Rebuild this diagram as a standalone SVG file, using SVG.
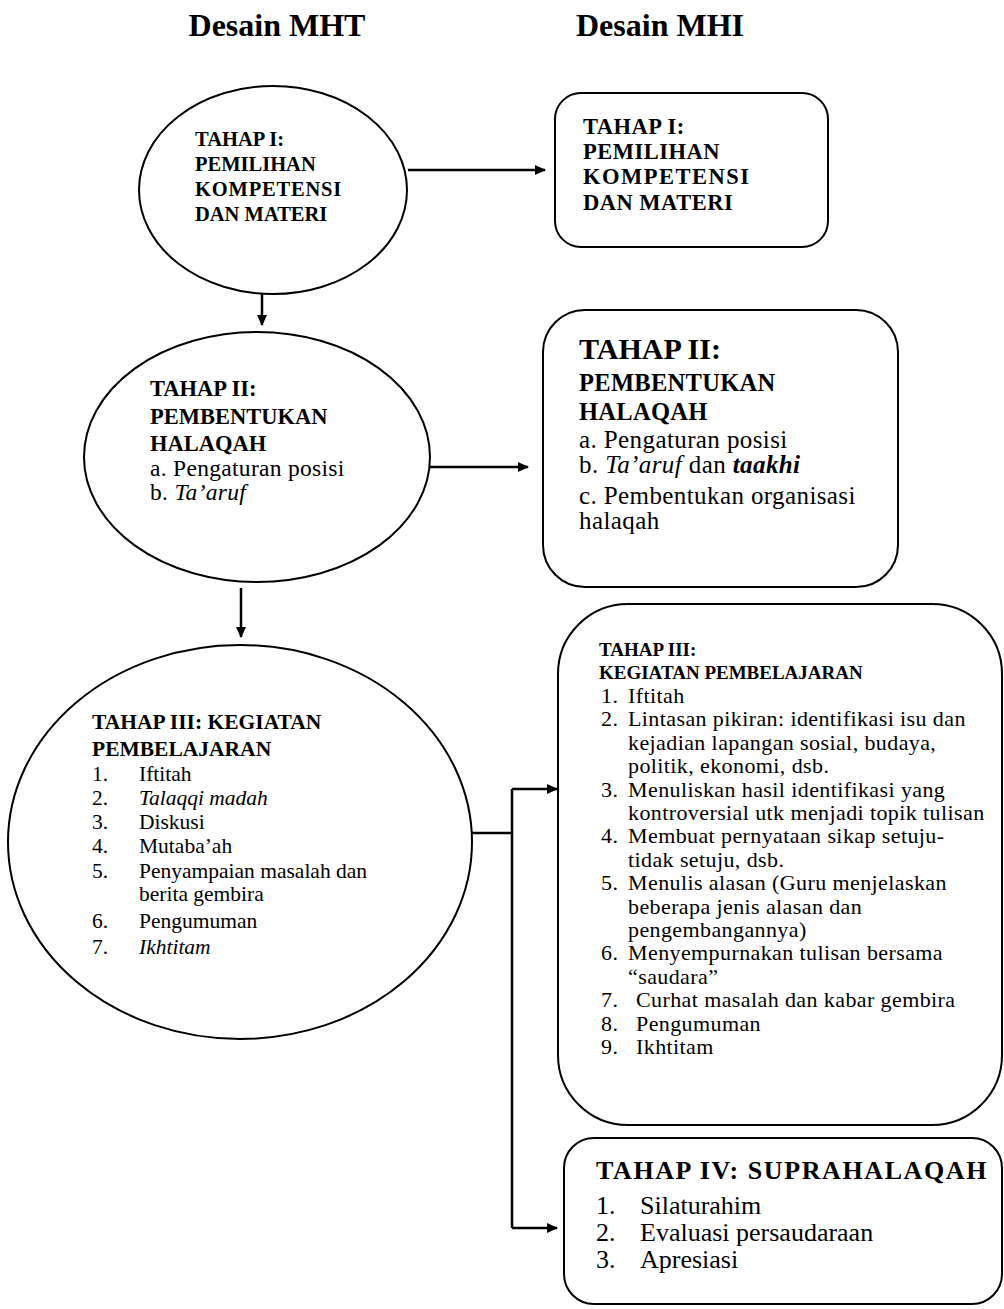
<svg xmlns="http://www.w3.org/2000/svg" width="1004" height="1309" viewBox="0 0 1004 1309">
<defs>
<marker id="ah" markerWidth="11" markerHeight="10" refX="10" refY="5" orient="auto" markerUnits="userSpaceOnUse">
<path d="M0,0 L11,5 L0,10 Z" fill="#000"/>
</marker>
<style>
.shape{fill:#fff;stroke:#000;stroke-width:2}
.t{font-family:"Liberation Serif","Times New Roman",serif;fill:#000}
.b{font-weight:bold}
.i{font-style:italic}
.conn{fill:none;stroke:#000;stroke-width:2.5}
</style>
</defs>
<rect width="1004" height="1309" fill="#fff"/>
<g id="headers">
<text class="t b" x="277" y="36" font-size="32" text-anchor="middle">Desain MHT</text>
<text class="t b" x="660" y="36" font-size="32" text-anchor="middle">Desain MHI</text>
</g>
<g id="connectors">
<line class="conn" x1="408" y1="170" x2="545" y2="170" marker-end="url(#ah)"/>
<line class="conn" x1="262" y1="293" x2="262" y2="325" marker-end="url(#ah)"/>
<line class="conn" x1="430" y1="467" x2="528" y2="467" marker-end="url(#ah)"/>
<line class="conn" x1="241" y1="588" x2="241" y2="637" marker-end="url(#ah)"/>
<path class="conn" d="M468,833 H512"/>
<path class="conn" d="M512,789 V1228"/>
<line class="conn" x1="512" y1="789" x2="557" y2="789" marker-end="url(#ah)"/>
<line class="conn" x1="512" y1="1228" x2="557" y2="1228" marker-end="url(#ah)"/>
</g>
<g id="mht1">
<ellipse class="shape" cx="273" cy="190" rx="134" ry="104"/>
<text class="t b" font-size="20.5"><tspan x="195" y="146">TAHAP I:</tspan><tspan x="195" y="171">PEMILIHAN</tspan><tspan x="195" y="196" letter-spacing="0.8">KOMPETENSI</tspan><tspan x="195" y="221">DAN MATERI</tspan></text>
</g>
<g id="mhi1">
<rect class="shape" x="555" y="93" width="273" height="154" rx="26"/>
<text class="t b" font-size="22.5" letter-spacing="0.5"><tspan x="583" y="134">TAHAP I:</tspan><tspan x="583" y="159">PEMILIHAN</tspan><tspan x="583" y="184" letter-spacing="1.5">KOMPETENSI</tspan><tspan x="583" y="210">DAN MATERI</tspan></text>
</g>
<g id="mht2">
<ellipse class="shape" cx="257" cy="457" rx="173" ry="125"/>
<text class="t b" font-size="22.5"><tspan x="150" y="396">TAHAP  II:</tspan><tspan x="150" y="424">PEMBENTUKAN</tspan><tspan x="150" y="451">HALAQAH</tspan></text>
<text class="t" font-size="23.5" letter-spacing="0.3"><tspan x="150" y="476">a. Pengaturan posisi</tspan><tspan x="150" y="500">b. <tspan class="i">Ta’aruf</tspan></tspan></text>
</g>
<g id="mhi2">
<rect class="shape" x="543" y="310" width="355" height="277" rx="42"/>
<text class="t b"><tspan x="579" y="359" font-size="30">TAHAP II:</tspan><tspan x="579" y="391" font-size="24.5" letter-spacing="0.3">PEMBENTUKAN</tspan><tspan x="579" y="420" font-size="24.5" letter-spacing="0.3">HALAQAH</tspan></text>
<text class="t" font-size="25" letter-spacing="0.4"><tspan x="579" y="448">a. Pengaturan posisi</tspan><tspan x="579" y="473">b. <tspan class="i">Ta’aruf</tspan> dan <tspan class="b i">taakhi</tspan></tspan><tspan x="579" y="504">c. Pembentukan organisasi</tspan><tspan x="579" y="529">halaqah</tspan></text>
</g>
<g id="mht3">
<ellipse class="shape" cx="240" cy="842" rx="232" ry="197"/>
<text class="t b" font-size="21.5"><tspan x="92" y="729">TAHAP III: KEGIATAN</tspan><tspan x="92" y="756">PEMBELAJARAN</tspan></text>
<text class="t" font-size="21.5">
<tspan x="92" y="781">1.</tspan><tspan x="139" y="781">Iftitah</tspan>
<tspan x="92" y="805">2.</tspan><tspan x="139" y="805" class="i">Talaqqi madah</tspan>
<tspan x="92" y="829">3.</tspan><tspan x="139" y="829">Diskusi</tspan>
<tspan x="92" y="853">4.</tspan><tspan x="139" y="853">Mutaba’ah</tspan>
<tspan x="92" y="878">5.</tspan><tspan x="139" y="878">Penyampaian masalah dan</tspan>
<tspan x="139" y="901">berita gembira</tspan>
<tspan x="92" y="928">6.</tspan><tspan x="139" y="928">Pengumuman</tspan>
<tspan x="92" y="954">7.</tspan><tspan x="139" y="954" class="i">Ikhtitam</tspan>
</text>
</g>
<g id="mhi3">
<rect class="shape" x="558" y="604" width="444" height="521" rx="70"/>
<text class="t b" font-size="19"><tspan x="599" y="656">TAHAP III:</tspan><tspan x="599" y="679">KEGIATAN  PEMBELAJARAN</tspan></text>
<text class="t" font-size="22" letter-spacing="0.4">
<tspan x="601" y="703">1.</tspan><tspan x="628" y="703">Iftitah</tspan>
<tspan x="601" y="726">2.</tspan><tspan x="628" y="726">Lintasan pikiran: identifikasi isu dan</tspan>
<tspan x="628" y="750">kejadian lapangan sosial, budaya,</tspan>
<tspan x="628" y="773">politik, ekonomi, dsb.</tspan>
<tspan x="601" y="797">3.</tspan><tspan x="628" y="797">Menuliskan hasil identifikasi yang</tspan>
<tspan x="628" y="820">kontroversial utk menjadi topik tulisan</tspan>
<tspan x="601" y="843">4.</tspan><tspan x="628" y="843">Membuat pernyataan sikap setuju-</tspan>
<tspan x="628" y="867">tidak setuju, dsb.</tspan>
<tspan x="601" y="890">5.</tspan><tspan x="628" y="890">Menulis alasan (Guru menjelaskan</tspan>
<tspan x="628" y="914">beberapa jenis alasan dan</tspan>
<tspan x="628" y="937">pengembangannya)</tspan>
<tspan x="601" y="960">6.</tspan><tspan x="628" y="960">Menyempurnakan tulisan bersama</tspan>
<tspan x="628" y="984">“saudara”</tspan>
<tspan x="601" y="1007">7.</tspan><tspan x="636" y="1007">Curhat masalah dan kabar gembira</tspan>
<tspan x="601" y="1031">8.</tspan><tspan x="636" y="1031">Pengumuman</tspan>
<tspan x="601" y="1054">9.</tspan><tspan x="636" y="1054">Ikhtitam</tspan>
</text>
</g>
<g id="mhi4">
<rect class="shape" x="564" y="1138" width="438" height="166" rx="30"/>
<text class="t b" font-size="26" letter-spacing="1.6"><tspan x="596" y="1179">TAHAP  IV: SUPRAHALAQAH</tspan></text>
<text class="t" font-size="26">
<tspan x="596" y="1214">1.</tspan><tspan x="640" y="1214">Silaturahim</tspan>
<tspan x="596" y="1241">2.</tspan><tspan x="640" y="1241">Evaluasi persaudaraan</tspan>
<tspan x="596" y="1268">3.</tspan><tspan x="640" y="1268">Apresiasi</tspan>
</text>
</g>
</svg>
